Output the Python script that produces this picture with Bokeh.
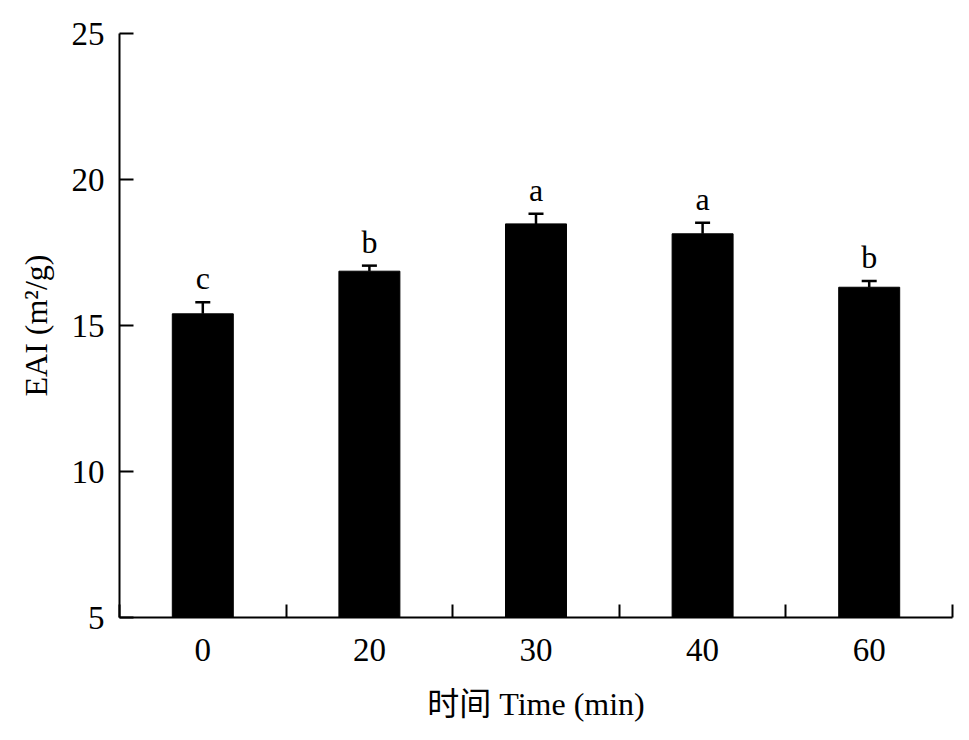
from bokeh.plotting import figure
from bokeh.models import ColumnDataSource, Range1d, FixedTicker, Whisker, TeeHead, LabelSet
from bokeh.embed import file_html
from bokeh.resources import INLINE

categories = ["0", "20", "30", "40", "60"]
eai = [15.40, 16.86, 18.48, 18.14, 16.31]
sd = [0.40, 0.19, 0.35, 0.38, 0.21]
letters = ["c", "b", "a", "a", "b"]
y_ticks = [5, 10, 15, 20, 25]

FONT = "Liberation Serif"
xpos = [i + 0.5 for i in range(len(categories))]
src = ColumnDataSource(dict(
    x=xpos, top=eai, upper=[v + e for v, e in zip(eai, sd)],
    lower=eai, lab=letters))

p = figure(output_backend="svg", toolbar_location=None,
           frame_width=833, frame_height=584,
           min_border_left=119, min_border_top=33, min_border_right=10, min_border_bottom=105,
           x_range=Range1d(0, len(categories)), y_range=Range1d(5, 25))
p.outline_line_color = None
p.grid.grid_line_color = None

p.vbar(x="x", top="top", bottom=5, width=0.366, source=src,
       fill_color="black", line_color="black")

w = Whisker(base="x", upper="upper", lower="lower", source=src,
            line_color="black", line_width=2.5,
            upper_head=TeeHead(size=15, line_color="black", line_width=2.5),
            lower_head=None)
p.add_layout(w)

labels = LabelSet(x="x", y="upper", text="lab", source=src, text_align="center",
                  text_baseline="alphabetic", y_offset=13,
                  text_font=FONT, text_font_size="32px", text_color="black")
p.add_layout(labels)

# x axis
xa = p.xaxis[0]
xa.ticker = FixedTicker(ticks=xpos, minor_ticks=list(range(len(categories) + 1)))
xa.major_label_overrides = {x: c for x, c in zip(xpos, categories)}
xa.major_tick_line_color = None
xa.minor_tick_in = 13
xa.minor_tick_out = 0
xa.minor_tick_line_width = 2
xa.minor_tick_line_color = "black"
xa.axis_line_width = 2
xa.axis_line_color = "black"
xa.major_label_text_font = FONT
xa.major_label_text_font_size = "33px"
xa.major_label_text_color = "black"
xa.major_label_standoff = 15
xa.axis_label = "时间 Time (min)"
xa.axis_label_text_font = "Liberation Serif, Noto Sans CJK SC"
xa.axis_label_text_font_style = "normal"
xa.axis_label_text_font_size = "32px"
xa.axis_label_text_color = "black"
xa.axis_label_standoff = 22

# y axis
ya = p.yaxis[0]
ya.ticker = FixedTicker(ticks=y_ticks, minor_ticks=[])
ya.major_tick_in = 14
ya.major_tick_out = 0
ya.major_tick_line_width = 2
ya.major_tick_line_color = "black"
ya.axis_line_width = 2
ya.axis_line_color = "black"
ya.major_label_text_font = FONT
ya.major_label_text_font_size = "33px"
ya.major_label_text_color = "black"
ya.major_label_standoff = 15
ya.axis_label = "EAI (m²/g)"
ya.axis_label_text_font = FONT
ya.axis_label_text_font_style = "normal"
ya.axis_label_text_font_size = "32px"
ya.axis_label_text_color = "black"
ya.axis_label_standoff = 15

open("out.html", "w").write(file_html(p, INLINE))
